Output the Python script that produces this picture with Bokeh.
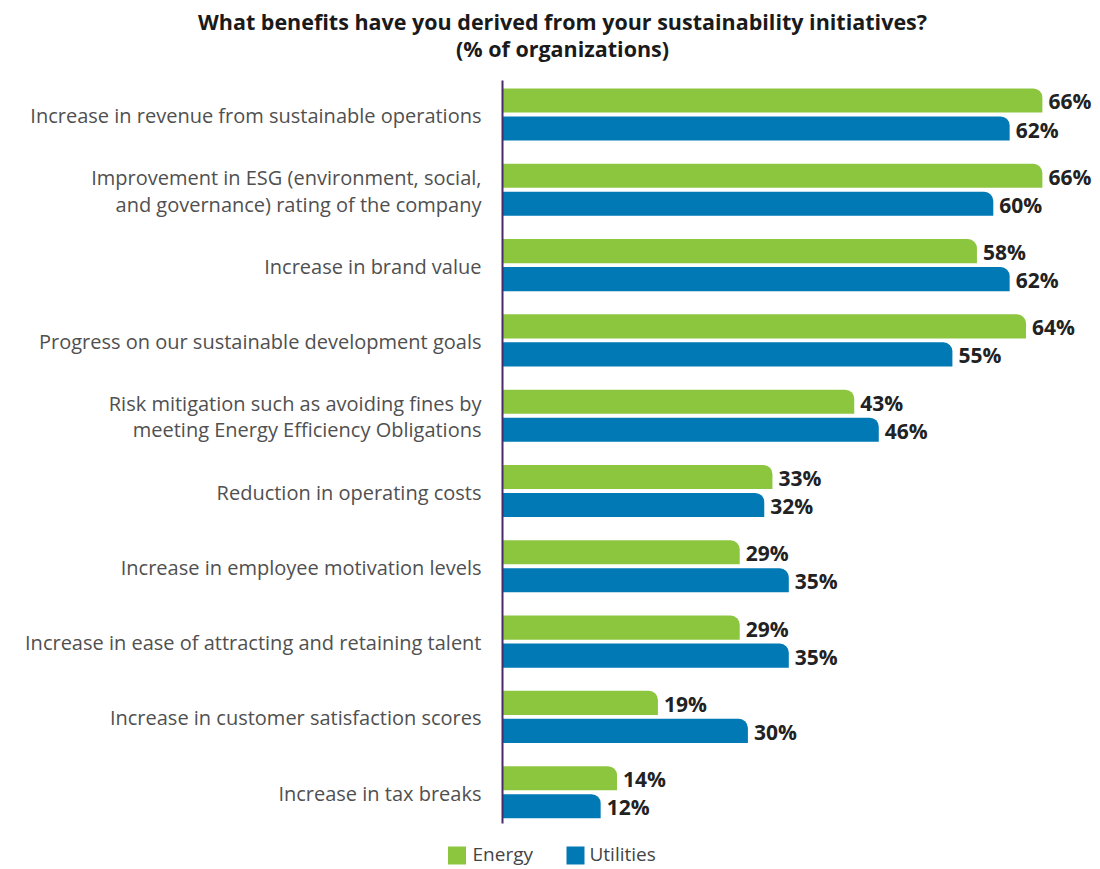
from bokeh.plotting import figure
from bokeh.models import Range1d, ColumnDataSource
from bokeh.core.properties import value
from bokeh.embed import file_html
from bokeh.resources import INLINE

categories = [
    "Increase in revenue from sustainable operations",
    "Improvement in ESG (environment, social,\nand governance) rating of the company",
    "Increase in brand value",
    "Progress on our sustainable development goals",
    "Risk mitigation such as avoiding fines by\nmeeting Energy Efficiency Obligations",
    "Reduction in operating costs",
    "Increase in employee motivation levels",
    "Increase in ease of attracting and retaining talent",
    "Increase in customer satisfaction scores",
    "Increase in tax breaks",
]
energy = [66, 66, 58, 64, 43, 33, 29, 29, 19, 14]
utilities = [62, 60, 62, 55, 46, 32, 35, 35, 30, 12]
series_names = ["Energy", "Utilities"]
title_lines = ["What benefits have you derived from your sustainability initiatives?",
               "(% of organizations)"]

GREEN = "#8cc63f"
BLUE = "#0079b5"
FONT = "Open Sans"

W, H = 1100, 869
x0_px = 502.0
px_per = 8.18
row0_px = 114.0
row_px = 75.3

xs = -x0_px / px_per
xe = (W - x0_px) / px_per
ys = -(H - row0_px) / row_px
ye = row0_px / row_px

p = figure(width=W, height=H, output_backend="svg", toolbar_location=None,
           x_range=Range1d(xs, xe), y_range=Range1d(ys, ye),
           min_border=0, min_border_left=0, min_border_right=0,
           min_border_top=0, min_border_bottom=0)
p.axis.visible = False
p.grid.visible = False
p.outline_line_color = None
p.background_fill_color = "white"

n = len(categories)
ypos = [-i for i in range(n)]
off = 0.186
hgt = 0.32

src = ColumnDataSource(dict(
    y=ypos,
    yg=[y + off for y in ypos],
    yb=[y - off for y in ypos],
    energy=energy,
    utilities=utilities,
    elab=[f"{v}%" for v in energy],
    ulab=[f"{v}%" for v in utilities],
    cat=categories,
))

p.hbar(y="yg", left=0, right="energy", height=hgt, source=src,
       fill_color=GREEN, line_color=None, border_radius=(0, 9, 0, 0))
p.hbar(y="yb", left=0, right="utilities", height=hgt, source=src,
       fill_color=BLUE, line_color=None, border_radius=(0, 9, 0, 0))

# axis line
p.segment(x0=[0], x1=[0], y0=[(row0_px - 80) / row_px], y1=[-(823 - row0_px) / row_px],
          line_color="#4a2a6a", line_width=2)

# value labels
p.text(x="energy", y="yg", text="elab", source=src, x_offset=6, y_offset=1,
       text_font=value(FONT), text_font_style="bold", text_font_size="21px",
       text_color="#222222", text_baseline="middle", text_align="left")
p.text(x="utilities", y="yb", text="ulab", source=src, x_offset=6, y_offset=1,
       text_font=value(FONT), text_font_style="bold", text_font_size="21px",
       text_color="#222222", text_baseline="middle", text_align="left")

# category labels
p.text(x=0, y="y", text="cat", source=src, x_offset=-21, y_offset=1,
       text_font=value(FONT), text_font_size="20px", text_color="#505050",
       text_baseline="middle", text_align="right", text_line_height=0.98)

# title
def py(px):
    return (row0_px - px) / row_px

def pxx(px):
    return (px - x0_px) / px_per

p.text(x=[pxx(562)] * 2, y=[py(21), py(48)], text=title_lines,
       text_font=value(FONT), text_font_style="bold", text_font_size="21.5px",
       text_color="#1a1a1a", text_baseline="middle", text_align="center")

# legend
p.scatter(x=[pxx(456.5), pxx(575)], y=[py(855)] * 2, marker="square", size=18,
          fill_color=[GREEN, BLUE], line_color=None)
p.text(x=[pxx(472), pxx(589)], y=[py(853)] * 2, text=series_names,
       text_font=value(FONT), text_font_size="19px", text_color="#444444",
       text_baseline="middle", text_align="left")

open("out.html", "w").write(file_html(p, INLINE))
